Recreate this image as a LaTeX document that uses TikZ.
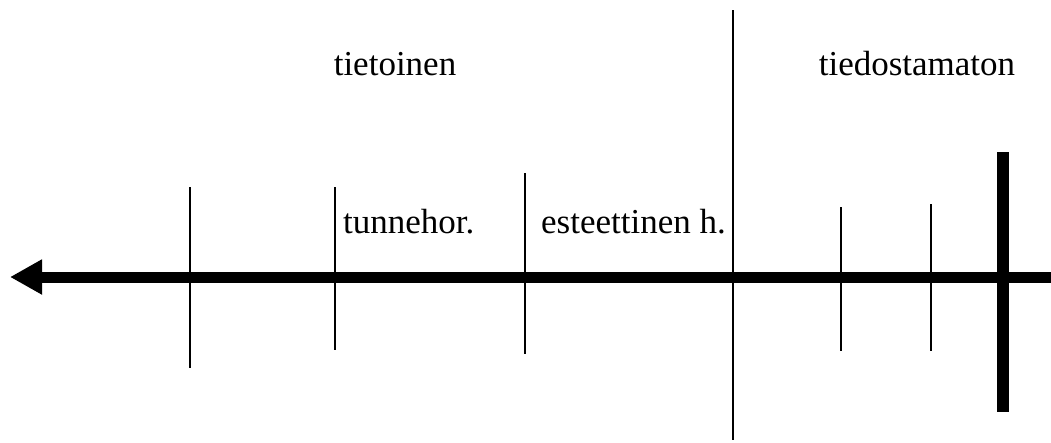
\documentclass[tikz,border=0pt]{standalone}
\usepackage{fontspec}
\setmainfont{Liberation Serif}
\usetikzlibrary{arrows.meta}

\begin{document}
\begin{tikzpicture}[
  x=1pt, y=-1pt,
  lbl/.style={anchor=base,inner sep=0pt,font=\fontsize{35}{42}\selectfont},
  tick/.style={line width=1.5pt},
]
\useasboundingbox (0,0) rectangle (1051,442);
% labels
\node[lbl] (tiet) at (395,75) {tietoinen};
\node[lbl] (tied) at (917,75) {tiedostamaton};
\node[lbl,anchor=base west] (tunne) at (343,233) {tunnehor.};
\node[lbl,anchor=base west] (este) at (541,233) {esteettinen h.};

% main axis
\coordinate (right) at (1051,277);
\coordinate (left) at (10,277);
\draw[line width=11pt,-{Triangle[length=32pt,width=33pt]}] (right) -- (left);

% ticks
\foreach \x/\a/\b in {190/187/368, 335/187/350, 525/173/354, 733/10/440, 841/207/351, 931/204/351}
  \draw[tick] (\x,\a) -- (\x,\b);
\coordinate (ztop) at (1003,152);
\coordinate (zbot) at (1003,412);
\draw[line width=12pt] (ztop) -- (zbot);
\end{tikzpicture}
\end{document}
